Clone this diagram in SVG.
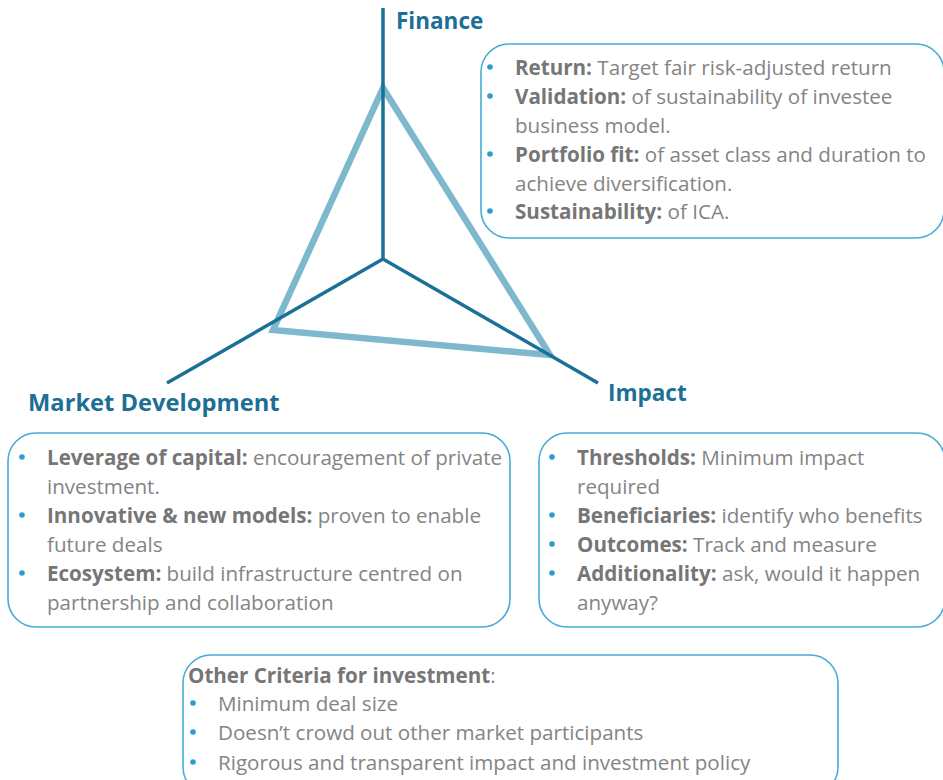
<svg xmlns="http://www.w3.org/2000/svg" width="943" height="780" viewBox="0 0 943 780">
<style>
.box{fill:#fff;stroke:#47abd6;stroke-width:1.6}
.t{font-family:"Open Sans","Liberation Sans",sans-serif;font-size:20.6px;fill:#848484}
.b{font-weight:bold;fill:#767676}
.lab{font-family:"Open Sans","Liberation Sans",sans-serif;font-weight:bold;fill:#1d6f95}
.dot{fill:#2b9bd0}
.axis{stroke:#1a7198;stroke-width:3.5;fill:none;stroke-linecap:butt}
.tri{stroke:#7eb8cd;stroke-width:6.5;fill:none;stroke-linejoin:miter}
</style>
<rect width="943" height="780" fill="#fff"/>
<g id="connectors">
<polygon class="tri" points="383,88 550,355 273,330"/>
<line class="axis" x1="383" y1="8" x2="383" y2="259"/>
<line class="axis" x1="383" y1="259" x2="167" y2="383"/>
<line class="axis" x1="383" y1="259" x2="598" y2="383"/>
</g>
<g id="finance">
<text class="lab" x="396" y="29" font-size="22.5">Finance</text>
<rect class="box" x="481" y="44" width="463" height="194" rx="28"/>
<circle class="dot" cx="490" cy="67" r="2.8"/>
<circle class="dot" cx="490" cy="96" r="2.8"/>
<circle class="dot" cx="490" cy="154" r="2.8"/>
<circle class="dot" cx="490" cy="211" r="2.8"/>
<text class="t" x="515" y="75"><tspan class="b">Return:</tspan> Target fair risk-adjusted return</text>
<text class="t" x="515" y="104"><tspan class="b">Validation:</tspan> of sustainability of investee</text>
<text class="t" x="515" y="133">business model.</text>
<text class="t" x="515" y="162"><tspan class="b">Portfolio fit:</tspan> of asset class and duration to</text>
<text class="t" x="515" y="191">achieve diversification.</text>
<text class="t" x="515" y="219"><tspan class="b">Sustainability:</tspan> of ICA.</text>
</g>
<g id="market">
<text class="lab" x="28" y="411" font-size="23.7">Market Development</text>
<rect class="box" x="8" y="433" width="502" height="194" rx="28"/>
<circle class="dot" cx="22" cy="457" r="2.8"/>
<circle class="dot" cx="22" cy="515" r="2.8"/>
<circle class="dot" cx="22" cy="573" r="2.8"/>
<text class="t" x="47" y="465"><tspan class="b">Leverage of capital:</tspan> encouragement of private</text>
<text class="t" x="47" y="494">investment.</text>
<text class="t" x="47" y="523"><tspan class="b">Innovative &amp; new models:</tspan>  proven to enable</text>
<text class="t" x="47" y="552">future deals</text>
<text class="t" x="47" y="581"><tspan class="b">Ecosystem:</tspan>  build infrastructure centred on</text>
<text class="t" x="47" y="610">partnership and collaboration</text>
</g>
<g id="impact">
<text class="lab" x="608" y="401" font-size="22.5">Impact</text>
<rect class="box" x="539" y="433" width="406" height="194" rx="28"/>
<circle class="dot" cx="552" cy="457" r="2.8"/>
<circle class="dot" cx="552" cy="515" r="2.8"/>
<circle class="dot" cx="552" cy="544" r="2.8"/>
<circle class="dot" cx="552" cy="573" r="2.8"/>
<text class="t" x="577" y="465"><tspan class="b">Thresholds:</tspan> Minimum impact</text>
<text class="t" x="577" y="494">required</text>
<text class="t" x="577" y="523"><tspan class="b">Beneficiaries:</tspan> identify who benefits</text>
<text class="t" x="577" y="552"><tspan class="b">Outcomes:</tspan> Track and measure</text>
<text class="t" x="577" y="581"><tspan class="b">Additionality:</tspan> ask, would it happen</text>
<text class="t" x="577" y="610">anyway?</text>
</g>
<g id="other">
<rect class="box" x="183" y="655" width="655" height="140" rx="28"/>
<circle class="dot" cx="193" cy="703" r="2.8"/>
<circle class="dot" cx="193" cy="732" r="2.8"/>
<circle class="dot" cx="193" cy="762" r="2.8"/>
<text class="t" x="188" y="683"><tspan class="b">Other Criteria for investment</tspan>:</text>
<text class="t" x="218" y="711">Minimum deal size</text>
<text class="t" x="218" y="740">Doesn’t crowd out other market participants</text>
<text class="t" x="218" y="770">Rigorous and transparent impact and investment policy</text>
</g>
</svg>
